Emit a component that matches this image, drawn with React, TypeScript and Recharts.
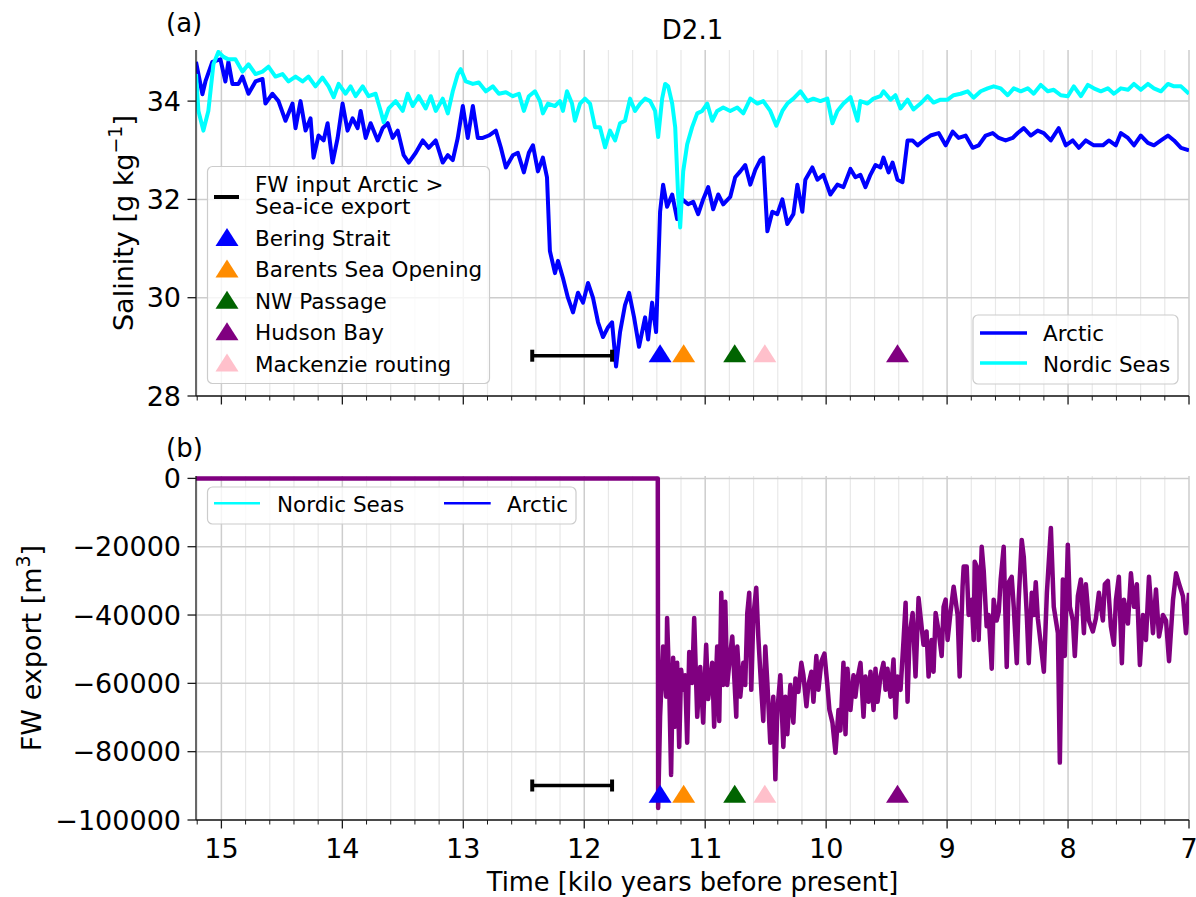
import React from 'react';
import { ComposedChart, Line, Scatter, XAxis, YAxis, CartesianGrid } from 'recharts';

const FONT = '"DejaVu Sans", sans-serif';

// ---------- data: [time (kyr BP), value] ----------
const arcticSalinity: [number, number][] = [
  [15.21, 34.8], [15.157, 34.14], [15.132, 34.4], [15.075, 34.8], [15.008, 34.85], [14.967, 34.4], [14.942, 34.8], [14.909, 34.35], [14.859, 34.35], [14.826, 34.5],
  [14.776, 34.15], [14.718, 34.4], [14.66, 34.45], [14.636, 33.95], [14.578, 34.15], [14.528, 34.0], [14.47, 33.6], [14.412, 33.95], [14.387, 33.45], [14.346, 34.0],
  [14.304, 33.4], [14.263, 33.65], [14.238, 32.85], [14.197, 33.3], [14.155, 33.2], [14.122, 33.55], [14.081, 32.75], [14.039, 33.25], [13.998, 33.95], [13.957, 33.4],
  [13.915, 33.65], [13.874, 33.45], [13.849, 33.8], [13.807, 33.25], [13.766, 33.55], [13.708, 33.2], [13.667, 33.45], [13.625, 33.55], [13.584, 33.25], [13.542, 33.4],
  [13.493, 32.9], [13.451, 32.75], [13.393, 32.95], [13.335, 33.2], [13.286, 33.05], [13.228, 33.2], [13.17, 32.75], [13.128, 32.9], [13.087, 32.8], [13.046, 33.25],
  [13.004, 33.9], [12.963, 33.25], [12.921, 33.9], [12.88, 33.25], [12.839, 33.25], [12.789, 33.3], [12.731, 33.4], [12.689, 33.05], [12.648, 32.65], [12.59, 32.9],
  [12.549, 32.95], [12.499, 32.55], [12.458, 32.95], [12.424, 33.1], [12.383, 32.57], [12.342, 32.85], [12.308, 32.45], [12.284, 30.95], [12.242, 30.5], [12.217, 30.75],
  [12.176, 30.4], [12.135, 30.0], [12.093, 29.7], [12.052, 30.1], [12.01, 29.9], [11.969, 30.3], [11.928, 30.0], [11.886, 29.5], [11.845, 29.2], [11.803, 29.4],
  [11.77, 29.5], [11.737, 28.6], [11.704, 29.3], [11.663, 29.85], [11.629, 30.1], [11.588, 29.6], [11.547, 29.0], [11.497, 29.6], [11.472, 29.15], [11.439, 29.9],
  [11.406, 29.3], [11.373, 31.75], [11.348, 32.3], [11.315, 31.85], [11.273, 32.1], [11.232, 31.6], [11.19, 32.0], [11.141, 31.9], [11.099, 31.95], [11.058, 31.7],
  [11.017, 32.0], [10.975, 32.25], [10.934, 31.8], [10.892, 32.1], [10.851, 31.9], [10.793, 32.05], [10.752, 32.45], [10.71, 32.57], [10.669, 32.7], [10.627, 32.3],
  [10.586, 32.6], [10.545, 32.8], [10.52, 32.85], [10.486, 31.35], [10.445, 31.75], [10.404, 31.7], [10.362, 32.0], [10.321, 31.5], [10.271, 31.7], [10.238, 32.3],
  [10.197, 31.75], [10.172, 32.4], [10.114, 32.65], [10.072, 32.4], [10.023, 32.5], [9.965, 32.1], [9.907, 32.3], [9.857, 32.25], [9.799, 32.62], [9.758, 32.45],
  [9.717, 32.5], [9.675, 32.25], [9.634, 32.5], [9.592, 32.7], [9.551, 32.65], [9.526, 32.85], [9.484, 32.55], [9.451, 32.75], [9.41, 32.4], [9.369, 32.35],
  [9.327, 33.2], [9.286, 33.2], [9.244, 33.1], [9.195, 33.2], [9.137, 33.3], [9.07, 33.35], [9.012, 33.1], [8.954, 33.38], [8.905, 33.25], [8.847, 33.3],
  [8.789, 33.05], [8.739, 33.1], [8.681, 33.3], [8.623, 33.35], [8.573, 33.25], [8.516, 33.2], [8.458, 33.25], [8.416, 33.35], [8.366, 33.45], [8.308, 33.3],
  [8.251, 33.4], [8.201, 33.35], [8.143, 33.2], [8.077, 33.45], [8.019, 33.1], [7.961, 33.2], [7.911, 33.05], [7.853, 33.2], [7.787, 33.1], [7.712, 33.1],
  [7.663, 33.2], [7.605, 33.1], [7.563, 33.35], [7.505, 33.25], [7.455, 33.1], [7.398, 33.3], [7.34, 33.15], [7.29, 33.1], [7.232, 33.2], [7.174, 33.3],
  [7.124, 33.2], [7.066, 33.05], [7.0, 33.0],
];

const nordicSalinity: [number, number][] = [
  [15.21, 34.55], [15.19, 33.8], [15.149, 33.4], [15.108, 33.8], [15.066, 34.75], [15.025, 35.0], [14.983, 34.9], [14.942, 34.85], [14.884, 34.85], [14.826, 34.6],
  [14.776, 34.75], [14.718, 34.55], [14.66, 34.6], [14.611, 34.7], [14.553, 34.5], [14.495, 34.55], [14.445, 34.4], [14.387, 34.5], [14.329, 34.4], [14.28, 34.5],
  [14.222, 34.3], [14.164, 34.48], [14.114, 34.3], [14.072, 34.08], [14.031, 34.35], [13.973, 34.15], [13.932, 34.3], [13.89, 34.1], [13.832, 34.3], [13.783, 34.1],
  [13.725, 34.15], [13.683, 33.8], [13.658, 33.57], [13.617, 33.85], [13.559, 34.0], [13.501, 33.8], [13.46, 34.15], [13.418, 33.9], [13.369, 34.1], [13.311, 33.85],
  [13.269, 34.1], [13.228, 33.8], [13.17, 34.05], [13.128, 33.75], [13.087, 34.2], [13.046, 34.55], [13.021, 34.65], [12.979, 34.4], [12.921, 34.35], [12.872, 34.38],
  [12.814, 34.2], [12.756, 34.3], [12.706, 34.15], [12.648, 34.18], [12.59, 34.1], [12.54, 34.15], [12.499, 33.8], [12.458, 34.1], [12.408, 34.2], [12.366, 34.0],
  [12.342, 33.75], [12.3, 33.95], [12.242, 33.9], [12.201, 34.0], [12.176, 33.8], [12.143, 34.2], [12.101, 33.95], [12.077, 33.6], [12.035, 33.95], [11.994, 34.05],
  [11.952, 33.95], [11.911, 33.47], [11.87, 33.47], [11.828, 33.06], [11.787, 33.4], [11.745, 33.2], [11.704, 33.55], [11.663, 33.6], [11.621, 34.05], [11.58, 33.8],
  [11.538, 33.95], [11.497, 34.05], [11.455, 34.0], [11.414, 33.8], [11.389, 33.27], [11.356, 34.05], [11.331, 34.35], [11.306, 34.3], [11.273, 33.95], [11.248, 33.47],
  [11.224, 32.1], [11.207, 31.43], [11.182, 32.57], [11.149, 33.12], [11.108, 33.47], [11.066, 33.75], [11.025, 33.8], [10.983, 33.95], [10.942, 33.6], [10.901, 33.8],
  [10.851, 33.87], [10.793, 33.8], [10.735, 33.87], [10.685, 33.75], [10.627, 34.05], [10.569, 33.95], [10.52, 34.0], [10.462, 33.8], [10.412, 33.5], [10.362, 33.8],
  [10.321, 33.95], [10.271, 34.05], [10.213, 34.2], [10.155, 34.0], [10.106, 34.05], [10.048, 34.0], [9.99, 34.05], [9.948, 33.55], [9.907, 33.8], [9.857, 33.95],
  [9.799, 34.08], [9.741, 33.6], [9.717, 34.0], [9.658, 33.95], [9.609, 34.05], [9.551, 34.1], [9.526, 34.2], [9.468, 34.03], [9.427, 34.12], [9.385, 33.85],
  [9.327, 34.03], [9.278, 33.83], [9.22, 33.95], [9.161, 34.1], [9.112, 33.97], [9.054, 34.03], [8.996, 34.03], [8.946, 34.12], [8.888, 34.15], [8.83, 34.2],
  [8.781, 34.07], [8.722, 34.2], [8.665, 34.26], [8.615, 34.3], [8.557, 34.26], [8.499, 34.12], [8.449, 34.26], [8.391, 34.2], [8.333, 34.26], [8.284, 34.15],
  [8.226, 34.33], [8.168, 34.2], [8.118, 34.23], [8.06, 34.12], [8.002, 34.1], [7.952, 34.3], [7.894, 34.1], [7.836, 34.33], [7.787, 34.26], [7.729, 34.2],
  [7.671, 34.26], [7.621, 34.15], [7.563, 34.26], [7.505, 34.23], [7.455, 34.35], [7.398, 34.23], [7.34, 34.35], [7.29, 34.26], [7.232, 34.2], [7.174, 34.35],
  [7.124, 34.3], [7.066, 34.3], [7.0, 34.15],
];

const fwExport: [number, number][] = [
  [15.21, 0], [11.392, 0], [11.389, -96500], [11.373, -69700], [11.348, -49200], [11.323, -63900], [11.315, -40900], [11.298, -59900], [11.282, -86800], [11.265, -52500],
  [11.248, -72700], [11.232, -54000], [11.215, -78600], [11.199, -56000], [11.182, -61900], [11.166, -57600], [11.149, -77400], [11.132, -50800], [11.108, -59900], [11.091, -40900],
  [11.066, -69800], [11.041, -55200], [11.017, -71500], [10.992, -48700], [10.975, -64600], [10.942, -54000], [10.926, -72700], [10.901, -49200], [10.884, -71000], [10.867, -33500],
  [10.851, -60500], [10.834, -36100], [10.818, -60500], [10.793, -51300], [10.776, -46300], [10.76, -58000], [10.743, -69800], [10.735, -49200], [10.71, -63900], [10.685, -54000],
  [10.669, -60500], [10.652, -39400], [10.636, -33500], [10.619, -61900], [10.602, -40400], [10.578, -32000], [10.561, -46300], [10.536, -61900], [10.52, -71000], [10.503, -49200],
  [10.486, -59900], [10.462, -77400], [10.437, -63900], [10.42, -88100], [10.404, -68200], [10.379, -57600], [10.354, -78600], [10.337, -63900], [10.321, -74900], [10.296, -60500],
  [10.271, -71500], [10.254, -58600], [10.23, -62500], [10.205, -54000], [10.188, -57600], [10.163, -66700], [10.147, -60500], [10.122, -56600], [10.105, -65400], [10.081, -52000],
  [10.064, -61900], [10.039, -53500], [10.014, -51300], [9.99, -60500], [9.973, -67800], [9.948, -71500], [9.923, -80300], [9.898, -67800], [9.882, -73800], [9.857, -54000],
  [9.84, -74900], [9.824, -55700], [9.799, -67800], [9.774, -57600], [9.758, -63900], [9.741, -58600], [9.716, -54000], [9.691, -69800], [9.675, -58000], [9.65, -65400],
  [9.633, -56600], [9.608, -67800], [9.592, -55700], [9.575, -65400], [9.551, -58000], [9.526, -54000], [9.509, -61900], [9.493, -55700], [9.468, -63900], [9.443, -53000],
  [9.426, -70000], [9.41, -58000], [9.385, -61900], [9.36, -47300], [9.343, -36400], [9.327, -65400], [9.31, -45800], [9.285, -39400], [9.261, -58000], [9.236, -35000],
  [9.195, -48700], [9.17, -44800], [9.153, -58000], [9.128, -47300], [9.112, -56600], [9.095, -39400], [9.07, -44800], [9.045, -52000], [9.029, -37600], [9.012, -35500],
  [8.996, -47300], [8.971, -39000], [8.946, -31700], [8.913, -40000], [8.896, -58000], [8.872, -31700], [8.863, -25800], [8.838, -25800], [8.822, -40000], [8.797, -35500],
  [8.78, -47300], [8.772, -24400], [8.755, -25800], [8.739, -47300], [8.714, -20000], [8.697, -27200], [8.673, -43300], [8.656, -40000], [8.631, -55700], [8.615, -35500],
  [8.59, -41600], [8.573, -39000], [8.557, -29600], [8.532, -20000], [8.507, -55200], [8.491, -30400], [8.466, -28800], [8.449, -37600], [8.424, -54100], [8.408, -35500],
  [8.383, -18000], [8.366, -23000], [8.341, -40000], [8.325, -54100], [8.3, -33500], [8.283, -40000], [8.267, -30400], [8.25, -41000], [8.225, -48700], [8.2, -56600],
  [8.175, -33500], [8.142, -14500], [8.118, -37600], [8.084, -45300], [8.068, -83200], [8.043, -29600], [8.027, -52000], [8.002, -19400], [7.985, -37600], [7.96, -41600],
  [7.944, -52000], [7.919, -34500], [7.894, -29600], [7.869, -45300], [7.853, -31000], [7.828, -41600], [7.795, -44800], [7.77, -41000], [7.745, -33500], [7.712, -41600],
  [7.696, -31000], [7.671, -30000], [7.646, -43300], [7.621, -48700], [7.604, -35500], [7.58, -28800], [7.555, -54100], [7.538, -35500], [7.505, -42500], [7.48, -27800],
  [7.455, -37600], [7.431, -31000], [7.406, -54600], [7.381, -40000], [7.356, -47300], [7.331, -28800], [7.298, -45300], [7.273, -32500], [7.248, -46300], [7.215, -40000],
  [7.19, -41600], [7.165, -53500], [7.132, -35500], [7.107, -27800], [7.083, -30700], [7.05, -34500], [7.025, -45300], [7.0, -33500],
];

// events (gateway openings / routing changes), in legend order
const eventNames = ['Bering Strait', 'Barents Sea Opening', 'NW Passage', 'Hudson Bay', 'Mackenzie routing'];
const eventTimes = [11.373, 11.178, 10.756, 9.41, 10.507];
const eventColors = ['#0000ff', '#ff8c00', '#006400', '#800080', '#ffc0cb'];
const fwInputPeriod = [12.43, 11.77];
const markerLevelSalinity = 28.87;
const barLevelSalinity = 28.82;
const markerLevelFw = -92300;
const barLevelFw = -89900;

// axes
const X_DOMAIN: [number, number] = [7, 15.21];
const majorYearTicks = [15, 14, 13, 12, 11, 10, 9, 8, 7];
const minorYearTicks = [15.2, ...majorYearTicks.slice(1).flatMap((m) => [0.8, 0.6, 0.4, 0.2].map((f) => Math.round((m + f) * 10) / 10))];
const allYearTicks = [...majorYearTicks, ...minorYearTicks].sort((a, b) => b - a);
const salinityTicks = [28, 30, 32, 34];
const SAL_DOMAIN: [number, number] = [28, 35.04];
const fwTicks = [-100000, -80000, -60000, -40000, -20000, 0];
const FW_DOMAIN: [number, number] = [-100000, 700];

const legendFwLines = ['FW input Arctic >', 'Sea-ice export'];
const salinityLegend = [
  { name: 'Arctic', color: '#0000ff' },
  { name: 'Nordic Seas', color: '#00ffff' },
];
const exportLegend = [
  { name: 'Nordic Seas', color: '#00ffff' },
  { name: 'Arctic', color: '#0000ff' },
];

const rows = (s: [number, number][]) => s.map(([t, v]) => ({ t, v }));
const arcticRows = rows(arcticSalinity);
const nordicRows = rows(nordicSalinity);
const fwRows = rows(fwExport);
const eventRows = (level: number) => eventTimes.map((t, i) => ({ t, v: level, color: eventColors[i] }));
const barRows = (level: number) => fwInputPeriod.map((t) => ({ t, v: level }));

const AXIS_LINE = { stroke: '#1a1a1a', strokeWidth: 1.3 };

const triPath = (cx: number, cy: number, w: number, h: number) =>
  `M${cx},${cy - h / 2} L${cx + w / 2},${cy + h / 2} L${cx - w / 2},${cy + h / 2} Z`;

function XTick(props: any) {
  const { x, y, payload, showLabel } = props;
  const v = payload.value;
  const major = Math.abs(v - Math.round(v)) < 1e-6;
  return (
    <g>
      <line x1={x} x2={x} y1={y} y2={y + (major ? 8.5 : 4.5)} stroke="#1a1a1a" strokeWidth={major ? 1.3 : 1} />
      {showLabel && major ? (
        <text x={x} y={y + 38} textAnchor="middle" fontSize={27} fontFamily={FONT} fill="#000">
          {String(Math.round(v))}
        </text>
      ) : null}
    </g>
  );
}

function YTick(props: any) {
  const { x, y, payload, format } = props;
  return (
    <g>
      <line x1={x - 8.5} x2={x} y1={y} y2={y} stroke="#1a1a1a" strokeWidth={1.3} />
      <text x={x - 15} y={y} dy="0.36em" textAnchor="end" fontSize={27} fontFamily={FONT} fill="#000">
        {format(payload.value)}
      </text>
    </g>
  );
}

const fmtSal = (v: number) => String(v);
const fmtFw = (v: number) => (v === 0 ? '0' : '\u2212' + String(Math.abs(v)));

function RotLabel(props: any) {
  const { viewBox, offsetX, main, sup, tail } = props;
  const cx = (viewBox?.x ?? 0) + offsetX;
  const cy = (viewBox?.y ?? 0) + (viewBox?.height ?? 0) / 2;
  return (
    <text x={cx} y={cy + 9.5} transform={`rotate(-90 ${cx} ${cy})`} textAnchor="middle" fontSize={27} fontFamily={FONT} fill="#000">
      {main}
      <tspan dy={-11} fontSize={19}>{sup}</tspan>
      <tspan dy={11}>{tail}</tspan>
    </text>
  );
}

const capDot = (p: any) => (
  <line key={`cap-${p.index}`} x1={p.cx} x2={p.cx} y1={p.cy - 6} y2={p.cy + 6} stroke="#000" strokeWidth={4} />
);
const triShape = (p: any) => <path d={triPath(p.cx, p.cy, 23, 18)} fill={p.payload?.color ?? p.color} />;

export default function App() {
  return (
    <div style={{ position: 'absolute', left: 0, top: 0, width: 1196, height: 897, background: '#fff', fontFamily: FONT }}>
      {/* panel (a) */}
      <div style={{ position: 'absolute', left: 0, top: 0 }}>
        <ComposedChart width={1196} height={420} margin={{ top: 50, right: 7, bottom: 0, left: 0 }}>
          <CartesianGrid horizontal={false} verticalValues={minorYearTicks} stroke="#e8e8e8" strokeWidth={1.2} />
          <CartesianGrid horizontalValues={salinityTicks} verticalValues={majorYearTicks} stroke="#cdcdcd" strokeWidth={1.5} />
          <XAxis
            dataKey="t" type="number" domain={X_DOMAIN} reversed allowDataOverflow ticks={allYearTicks} interval={0}
            tickSize={0} tickMargin={0} tickLine={false} height={24} axisLine={AXIS_LINE}
            tick={(p: any) => <XTick {...p} showLabel={false} />}
          />
          <XAxis xAxisId="top" orientation="top" type="number" domain={X_DOMAIN} reversed allowDataOverflow height={0} tick={false} tickLine={false} axisLine={AXIS_LINE} />
          <YAxis
            dataKey="v" type="number" domain={SAL_DOMAIN} allowDataOverflow ticks={salinityTicks} interval={0} width={196}
            tickSize={0} tickMargin={0} tickLine={false} axisLine={AXIS_LINE}
            tick={(p: any) => <YTick {...p} format={fmtSal} />}
            label={(p: any) => <RotLabel {...p} offsetX={123.5} main="Salinity [g kg" sup={'\u22121'} tail="]" />}
          />
          <YAxis yAxisId="right" orientation="right" type="number" domain={SAL_DOMAIN} allowDataOverflow width={0} tick={false} tickLine={false} axisLine={AXIS_LINE} />
          <Line data={arcticRows} dataKey="v" type="linear" stroke="#0000ff" strokeWidth={4} dot={false} activeDot={false} strokeLinejoin="round" isAnimationActive={false} />
          <Line data={nordicRows} dataKey="v" type="linear" stroke="#00ffff" strokeWidth={4} dot={false} activeDot={false} strokeLinejoin="round" isAnimationActive={false} />
          <Line data={barRows(barLevelSalinity)} dataKey="v" type="linear" stroke="#000" strokeWidth={3.5} dot={capDot} activeDot={false} isAnimationActive={false} />
          <Scatter data={eventRows(markerLevelSalinity)} dataKey="v" shape={triShape} isAnimationActive={false} />
        </ComposedChart>
      </div>

      {/* panel (b) */}
      <div style={{ position: 'absolute', left: 0, top: 440 }}>
        <ComposedChart width={1196} height={457} margin={{ top: 36, right: 7, bottom: 0, left: 0 }}>
          <CartesianGrid horizontal={false} verticalValues={minorYearTicks} stroke="#e8e8e8" strokeWidth={1.2} />
          <CartesianGrid horizontalValues={fwTicks} verticalValues={majorYearTicks} stroke="#cdcdcd" strokeWidth={1.5} />
          <XAxis
            dataKey="t" type="number" domain={X_DOMAIN} reversed allowDataOverflow ticks={allYearTicks} interval={0}
            tickSize={0} tickMargin={0} tickLine={false} height={77} axisLine={AXIS_LINE}
            tick={(p: any) => <XTick {...p} showLabel />}
            label={(p: any) => {
              const vb = p.viewBox || { x: 196, y: 820, width: 993 };
              return (
                <text x={vb.x + vb.width / 2} y={vb.y + 71} textAnchor="middle" fontSize={25.7} fontFamily={FONT} fill="#000">
                  Time [kilo years before present]
                </text>
              );
            }}
          />
          <XAxis xAxisId="top" orientation="top" type="number" domain={X_DOMAIN} reversed allowDataOverflow height={0} tick={false} tickLine={false} axisLine={AXIS_LINE} />
          <YAxis
            dataKey="v" type="number" domain={FW_DOMAIN} allowDataOverflow ticks={fwTicks} interval={0} width={196}
            tickSize={0} tickMargin={0} tickLine={false} axisLine={AXIS_LINE}
            tick={(p: any) => <YTick {...p} format={fmtFw} />}
            label={(p: any) => <RotLabel {...p} offsetX={31.5} main="FW export [m" sup="3" tail="]" />}
          />
          <YAxis yAxisId="right" orientation="right" type="number" domain={FW_DOMAIN} allowDataOverflow width={0} tick={false} tickLine={false} axisLine={AXIS_LINE} />
          <Line data={fwRows} dataKey="v" type="linear" stroke="#800080" strokeWidth={4.5} dot={false} activeDot={false} strokeLinejoin="round" isAnimationActive={false} />
          <Line data={barRows(barLevelFw)} dataKey="v" type="linear" stroke="#000" strokeWidth={3.5} dot={capDot} activeDot={false} isAnimationActive={false} />
          <Scatter data={eventRows(markerLevelFw)} dataKey="v" shape={triShape} isAnimationActive={false} />
        </ComposedChart>
      </div>

      {/* titles and legends */}
      <svg width={1196} height={897} style={{ position: 'absolute', left: 0, top: 0, pointerEvents: 'none' }} fontFamily={FONT}>
        <text x={166} y={32} fontSize={26} fill="#000">(a)</text>
        <text x={692.5} y={39} fontSize={26} textAnchor="middle" fill="#000">D2.1</text>
        <text x={166} y={457} fontSize={26} fill="#000">(b)</text>

        {/* legend: events (panel a) */}
        <rect x={207.5} y={166.5} width={282} height={217} rx={5} fill="rgba(255,255,255,0.8)" stroke="#cccccc" strokeWidth={1.2} />
        <line x1={214} x2={239} y1={197} y2={197} stroke="#000" strokeWidth={4} />
        <text x={255} y={191.7} fontSize={21.5} fill="#000">{legendFwLines[0]}</text>
        <text x={255} y={214.3} fontSize={21.5} fill="#000">{legendFwLines[1]}</text>
        {eventNames.map((n, i) => (
          <g key={n}>
            <path d={triPath(227, 237 + 31.4 * i, 23, 18)} fill={eventColors[i]} />
            <text x={255} y={246 + 31.4 * i} fontSize={21.5} fill="#000">{n}</text>
          </g>
        ))}

        {/* legend: salinity lines (panel a) */}
        <rect x={973} y={315} width={205} height={69} rx={5} fill="rgba(255,255,255,0.8)" stroke="#cccccc" strokeWidth={1.2} />
        {salinityLegend.map((e, i) => (
          <g key={e.name}>
            <line x1={980} x2={1027} y1={333 + 30 * i} y2={333 + 30 * i} stroke={e.color} strokeWidth={3.3} />
            <text x={1043} y={341 + 30.7 * i} fontSize={21.5} fill="#000">{e.name}</text>
          </g>
        ))}

        {/* legend: panel b */}
        <rect x={207.5} y={487} width={368.5} height={37} rx={5} fill="rgba(255,255,255,0.8)" stroke="#cccccc" strokeWidth={1.2} />
        {exportLegend.map((e, i) => (
          <g key={e.name}>
            <line x1={214 + 230 * i} x2={260 + 230.7 * i} y1={503.3} y2={503.3} stroke={e.color} strokeWidth={2.6} />
            <text x={277 + 230 * i} y={512} fontSize={21.5} fill="#000">{e.name}</text>
          </g>
        ))}
      </svg>
    </div>
  );
}
